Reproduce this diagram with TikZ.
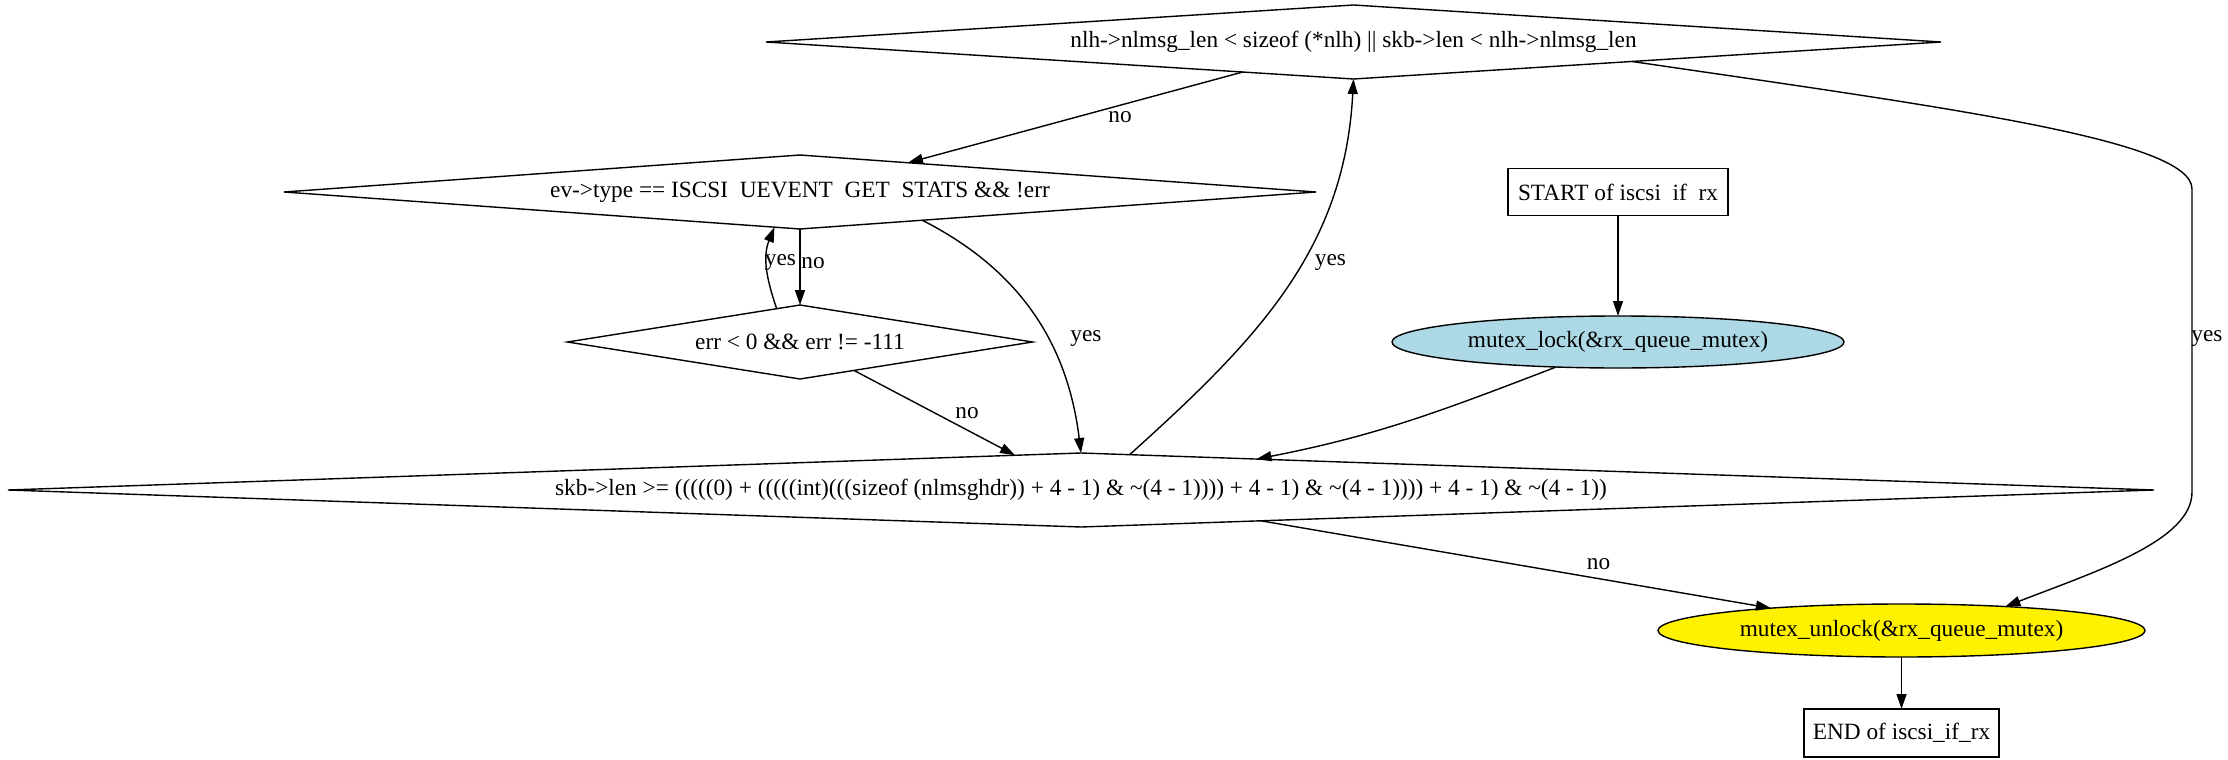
\documentclass[tikz,border=0pt]{standalone}
\usepackage{fontspec}
\setmainfont{Liberation Serif}
\usetikzlibrary{positioning,shapes.geometric,arrows.meta}
\definecolor{lockblue}{RGB}{173,216,230}

\begin{document}
\begin{tikzpicture}[
x=1pt, y=1pt,
node distance=75pt,
font=\fontsize{11.65}{14}\selectfont,
decision/.style={diamond, draw, line width=0.7pt, inner sep=0pt, outer sep=0pt, text centered},
terminal/.style={rectangle, draw, line width=0.7pt, inner sep=0pt, outer sep=0pt, minimum height=24pt, text centered},
action/.style={ellipse, draw, line width=0.7pt, inner sep=0pt, outer sep=0pt, minimum height=26.5pt, text centered},
arrow/.style={-{Triangle[length=7.5pt,width=5pt]}, line width=0.7pt},
lbl/.style={inner sep=0pt}
]
\useasboundingbox (0,0) rectangle (1114,-380);

% Define nodes
\node (cond_len) [decision, aspect=16, minimum width=587.5pt, minimum height=37pt] at (676.75,-21) {nlh->nlmsg\_len < sizeof (*nlh) || skb->len < nlh->nlmsg\_len};
\node (cond_type) [decision, aspect=14, minimum width=516pt, minimum height=37pt, below of=cond_len, xshift=-276.75pt] {ev->type == ISCSI\ \ UEVENT\ \ GET\ \ STATS \&\& !err};
\node (cond_err) [decision, aspect=6, minimum width=232.5pt, minimum height=37pt, below of=cond_type] {err < 0 \&\& err != -111};
\node (cond_skb) [decision, aspect=30, minimum width=1073pt, minimum height=37pt, below of=cond_err, xshift=140.5pt, yshift=1pt] {skb->len >= (((((0) + (((((int)(((sizeof (nlmsghdr)) + 4 - 1) \& \textasciitilde(4 - 1)))) + 4 - 1) \& \textasciitilde(4 - 1)))) + 4 - 1) \& \textasciitilde(4 - 1))};

% Start / end and lock nodes
\node (start) [terminal, minimum width=110pt, minimum height=23.5pt, right of=cond_type, xshift=334pt] {START of iscsi\ \ if\ \ rx};
\node (lock) [action, fill=lockblue, minimum width=226pt, minimum height=26pt, below of=start] {mutex\_lock(\&rx\_queue\_mutex)};
\node (unlock) [action, fill=yellow, minimum width=243.5pt, below of=cond_skb, xshift=410.25pt, yshift=4.75pt] {mutex\_unlock(\&rx\_queue\_mutex)};
\node (end_rx) [terminal, minimum width=97.5pt, below of=unlock, yshift=23.75pt] {END of iscsi\_if\_rx};

% Arrows
\draw [arrow] (cond_len) -- (cond_type) node [lbl] (lbl_no1) at (560,-58.5) {no};
\draw [arrow] (cond_type) -- (cond_err) node [lbl] (lbl_no2) at (406.5,-131.5) {no};
\draw [arrow] (cond_err.125.2) to[out=109, in=-112] (cond_type.234.6) node [lbl] (lbl_yes1) at (390.25,-131.5) {yes};
\draw [arrow] (cond_type.-13.3) to[out=-27, in=97] (cond_skb.north) node [lbl] (lbl_yes2) at (543,-169.5) {yes};
\draw [arrow] (cond_err) -- (cond_skb) node [lbl] (lbl_no3) at (483.5,-206.5) {no};
\draw [arrow] (cond_skb.36.9) to[out=42, in=-93] (cond_len.south) node [lbl] (lbl_yes3) at (665.25,-131.5) {yes};
\draw [arrow] (start) -- (lock);
\draw [arrow] (lock.202) to[out=201, in=11] (cond_skb.10.3);
\draw [arrow] (cond_skb) -- (unlock) node [lbl] (lbl_no4) at (799.25,-282) {no};
\draw [arrow] (unlock) -- (end_rx);

% Exit loop on the right
\draw [arrow] (cond_len.-4.6) .. controls (975,-54) and (1096,-70) .. (1096,-94.5) -- (1096,-246) .. controls (1096,-270) and (1050,-285) .. (unlock.13.4) node [lbl] (lbl_yes4) at (1103.5,-169.5) {yes};

\end{tikzpicture}
\end{document}
